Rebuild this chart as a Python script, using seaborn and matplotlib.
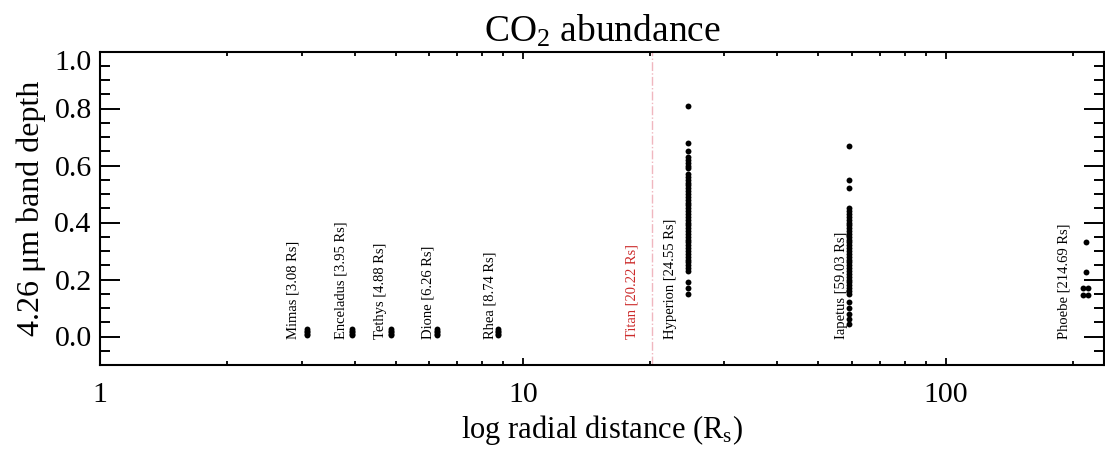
import numpy as np
import pandas as pd
import matplotlib
matplotlib.use("Agg")
import matplotlib.pyplot as plt
import matplotlib.transforms as mtransforms
from matplotlib.ticker import FixedLocator, MultipleLocator, LogLocator, NullFormatter, FixedFormatter
import seaborn as sns

# ---------------- data ----------------
moon_names = ["Mimas", "Enceladus", "Tethys", "Dione", "Rhea", "Titan", "Hyperion", "Iapetus", "Phoebe"]
moon_dist = [3.08, 3.95, 4.88, 6.26, 8.74, 20.22, 24.55, 59.03, 214.69]

mimas_depth = [0.005, 0.010, 0.015, 0.020, 0.025]
enceladus_depth = [0.005, 0.010, 0.015, 0.020, 0.025]
tethys_depth = [0.005, 0.010, 0.015, 0.020, 0.025]
dione_depth = [0.005, 0.010, 0.015, 0.020, 0.025]
rhea_depth = [0.005, 0.010, 0.015, 0.020, 0.025]

hyperion_depth = [0.81, 0.68, 0.65, 0.63, 0.62, 0.61, 0.60, 0.59,
                  0.57, 0.56, 0.55, 0.54, 0.53, 0.52, 0.51, 0.50, 0.49, 0.48,
                  0.47, 0.46, 0.45, 0.44, 0.43, 0.42, 0.41, 0.40, 0.39, 0.38,
                  0.37, 0.36, 0.35, 0.34, 0.33, 0.32, 0.31, 0.30, 0.29, 0.28,
                  0.27, 0.26, 0.25, 0.24, 0.23, 0.19, 0.17, 0.15]

iapetus_depth = [0.67, 0.55, 0.52,
                 0.45, 0.44, 0.43, 0.42, 0.41, 0.40, 0.39, 0.38, 0.37, 0.36,
                 0.35, 0.34, 0.33, 0.32, 0.31, 0.30, 0.29, 0.28, 0.27, 0.26,
                 0.25, 0.24, 0.23, 0.22, 0.21, 0.20, 0.19, 0.18, 0.17, 0.16,
                 0.15, 0.12, 0.10, 0.08, 0.06, 0.045]

phoebe_dist = [214.69, 214.69, 211.0, 217.0, 211.0, 217.0]
phoebe_depth = [0.33, 0.225, 0.17, 0.17, 0.145, 0.145]

# label offsets (pixels to the left of the moon's distance)
label_dx_px = [14, 11, 11, 9, 8, 20, 17, 7, 22]
label_colors = ["black", "black", "black", "black", "black", "#cc2a2a", "black", "black", "black"]

x_major = [1, 10, 100]
x_major_labels = ["1", "10", "100"]
y_major = [0.0, 0.2, 0.4, 0.6, 0.8, 1.0]
y_major_labels = ["0.0", "0.2", "0.4", "0.6", "0.8", "1.0"]

# ---------------- build frame ----------------
rows = []
for name, d, depths in [("Mimas", 3.08, mimas_depth), ("Enceladus", 3.95, enceladus_depth),
                        ("Tethys", 4.88, tethys_depth), ("Dione", 6.26, dione_depth),
                        ("Rhea", 8.74, rhea_depth), ("Hyperion", 24.55, hyperion_depth),
                        ("Iapetus", 59.03, iapetus_depth)]:
    for v in depths:
        rows.append((name, d, v))
for d, v in zip(phoebe_dist, phoebe_depth):
    rows.append(("Phoebe", d, v))
df = pd.DataFrame(rows, columns=["moon", "distance", "depth"])

# ---------------- style ----------------
sns.set_style("ticks")
plt.rcParams["font.family"] = ["Liberation Serif", "DejaVu Serif"]
plt.rcParams["mathtext.fontset"] = "custom"
plt.rcParams["mathtext.rm"] = "Liberation Serif"
plt.rcParams["mathtext.it"] = "Liberation Serif:italic"
for k in ["text.color", "axes.labelcolor", "xtick.color", "ytick.color", "axes.edgecolor"]:
    plt.rcParams[k] = "black"

W, H = 1105, 450
fig = plt.figure(figsize=(W / 100, H / 100), dpi=100)
ax = fig.add_axes([100 / W, 85 / H, 1004 / W, 313.5 / H])

sns.scatterplot(data=df, x="distance", y="depth", color="black", s=18,
                linewidth=0, ax=ax, legend=False, zorder=3)

ax.set_xscale("log")
ax.set_xlim(1, 237)
ax.set_ylim(-0.1, 1.0)

ax.axvline(20.22, color="#f0b7bf", ls="-.", lw=1.0, zorder=1)

for name, d, dx, col in zip(moon_names, moon_dist, label_dx_px, label_colors):
    ax.annotate(f"{name} [{d:.2f} Rs]", xy=(d, 0.0), xytext=(-dx * 0.72, -1.5),
                textcoords="offset points", rotation=90, ha="center", va="bottom",
                fontsize=10.5, color=col)

# axes cosmetics
for sp in ax.spines.values():
    sp.set_visible(True)
    sp.set_linewidth(1.5)
    sp.set_color("black")

ax.xaxis.set_major_locator(FixedLocator(x_major))
ax.xaxis.set_major_formatter(FixedFormatter(x_major_labels))
ax.xaxis.set_minor_locator(LogLocator(base=10, subs=np.arange(2, 10)))
ax.xaxis.set_minor_formatter(NullFormatter())
ax.yaxis.set_major_locator(FixedLocator(y_major))
ax.yaxis.set_major_formatter(FixedFormatter(y_major_labels))
ax.yaxis.set_minor_locator(MultipleLocator(0.05))

ax.tick_params(axis="x", which="major", direction="in", length=5, width=1.3,
               top=True, bottom=True, labelsize=21.5, pad=12, color="black", labelcolor="black")
ax.tick_params(axis="x", which="minor", direction="in", length=3, width=1.3,
               top=True, bottom=True, color="black")
ax.tick_params(axis="y", which="major", direction="in", length=14.5, width=1.4,
               left=True, right=True, labelsize=21.5, pad=6, color="black", labelcolor="black")
ax.tick_params(axis="y", which="minor", direction="in", length=7.2, width=1.4,
               left=True, right=True, color="black")

ax.set_xlabel("log radial distance (R$_\\mathrm{s}$)", fontsize=22, labelpad=4, color="black")
ax.set_ylabel("4.26 μm band depth", fontsize=23, labelpad=6, color="black")
ax.set_title("CO$_2$ abundance", fontsize=27, pad=7, color="black")

# top "1.0" label sits a bit below the top frame
fig.canvas.draw()
top_tick = ax.yaxis.get_major_ticks()[-1]
top_tick.label1.set_transform(top_tick.label1.get_transform() +
                              mtransforms.ScaledTranslation(0, -9 / 100, fig.dpi_scale_trans))

fig.savefig("out.png", dpi=100)
